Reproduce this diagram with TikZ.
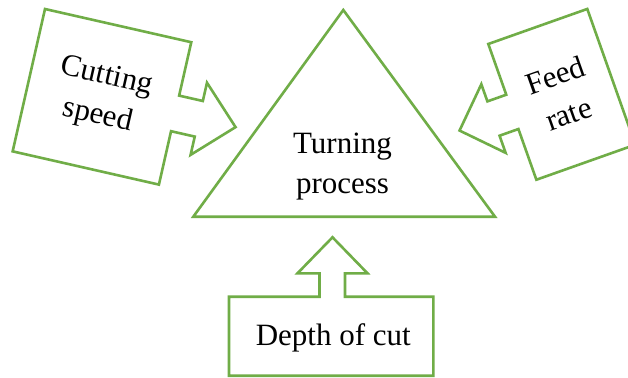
\documentclass[tikz,border=0pt]{standalone}
\usepackage{fontspec}
\setmainfont{Liberation Serif}
\definecolor{leafgreen}{RGB}{112,173,71}
\begin{document}
\begin{tikzpicture}[x=1pt,y=-1pt,
  outline/.style={draw=leafgreen,line width=2.6pt,line join=miter,fill=white},
  label/.style={font=\fontsize{31}{40.5}\selectfont,align=center,inner sep=0pt}]
\clip (0,0) rectangle (628,377);
\fill[white] (0,0) rectangle (628,377);

% central triangle
\draw[outline] (343.3,10) -- (495,216.7) -- (193.3,216.7) -- cycle;
\node[label] (proc) at (342.5,166.5) {Turning\\process};

% left callout, tilted clockwise, pointing right
\begin{scope}[shift={(45,9)},rotate=-12.8,transform shape]
  \draw[outline] (0,0) -- (150,0) -- (150,54.75) -- (174.3,54.75) -- (174.3,36)
    -- (212,73) -- (174.3,110) -- (174.3,91.25) -- (150,91.25) -- (150,146)
    -- (0,146) -- cycle;
  \node[label] (speed) at (75,73) {Cutting\\speed};
\end{scope}

% right callout, tilted counter-clockwise, pointing left
\begin{scope}[shift={(488.3,44)},rotate=19.5,transform shape]
  \draw[outline] (0,0) -- (105,0) -- (105,144) -- (0,144) -- (0,90.2)
    -- (-20,90.2) -- (-20,108.4) -- (-56,72) -- (-20,35.6) -- (-20,53.8)
    -- (0,53.8) -- cycle;
  \node[label] (feed) at (52.5,72) {Feed\\rate};
\end{scope}

% bottom callout, pointing up
\draw[outline] (229,296.7) -- (319.5,296.7) -- (319.5,273.3) -- (297.5,273.3)
  -- (332.5,237.3) -- (367.5,273.3) -- (345,273.3) -- (345,296.7)
  -- (433.3,296.7) -- (433.3,375.7) -- (229,375.7) -- cycle;
\node[label,anchor=base] (depth) at (333.3,345.5) {Depth of cut};
\end{tikzpicture}
\end{document}
